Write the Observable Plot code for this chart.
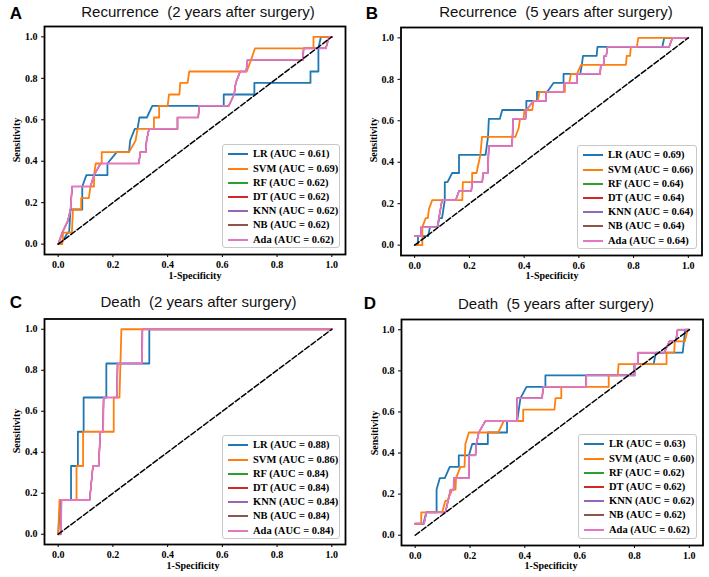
<!DOCTYPE html>
<html><head><meta charset="utf-8">
<script src="https://cdn.jsdelivr.net/npm/d3@7"></script>
<script src="https://cdn.jsdelivr.net/npm/@observablehq/plot@0.6"></script>
<style>
body{margin:0;background:#fff;}
#fig{position:relative;width:709px;height:577px;overflow:hidden;background:#fff;}
.abs{position:absolute;}
.panel svg{position:absolute;left:0;top:0;}
.title{font-family:"Liberation Sans",Arial,sans-serif;font-size:15px;white-space:pre;transform:translate(-50%,-50%);color:#111;line-height:1;}
.letter{font-family:"Liberation Sans",Arial,sans-serif;font-weight:bold;font-size:17px;transform:translate(-50%,-50%);color:#000;line-height:1;}
.axl{font-family:"Liberation Serif","Times New Roman",serif;font-weight:bold;font-size:10px;white-space:nowrap;color:#000;line-height:1;}
.legend{border:1px solid #c8c8c8;border-radius:3px;background:rgba(255,255,255,0.85);box-sizing:border-box;}
.lrow{position:absolute;left:0;height:14px;font-family:"Liberation Serif","Times New Roman",serif;font-weight:bold;font-size:10.5px;white-space:pre;color:#000;line-height:14px;}
.lline{position:absolute;height:2px;}
</style>
</head><body>
<div id="fig"></div>
<script>
// ---------- data ----------
const models = ["LR","SVM","RF","DT","KNN","NB","Ada"];
const colors = ["#1f77b4","#ff7f0e","#2ca02c","#d62728","#9467bd","#8c564b","#e377c2"];
const axisTicks = [0,0.2,0.4,0.6,0.8,1.0];
const letters = ["A","B","C","D"];
const titles = ["Recurrence  (2 years after surgery)","Recurrence  (5 years after surgery)","Death  (2 years after surgery)","Death  (5 years after surgery)"];
const xLabel = "1-Specificity";
const yLabel = "Sensitivity";
const chanceLine = [[0,0],[1,1]];

const aucA = [0.61,0.69,0.62,0.62,0.62,0.62,0.62];
const aucB = [0.69,0.66,0.64,0.64,0.64,0.64,0.64];
const aucC = [0.88,0.86,0.84,0.84,0.84,0.84,0.84];
const aucD = [0.63,0.60,0.62,0.62,0.62,0.62,0.62];

// Panel A: Recurrence 2 years  [fpr, tpr]
const A_LR = [[0,0],[0.01,0],[0.035,0.056],[0.04,0.056],[0.045,0.167],[0.088,0.167],[0.088,0.278],[0.103,0.333],[0.18,0.333],[0.18,0.389],[0.214,0.444],[0.259,0.444],[0.263,0.5],[0.28,0.556],[0.29,0.556],[0.297,0.611],[0.324,0.611],[0.344,0.667],[0.605,0.667],[0.605,0.722],[0.717,0.722],[0.717,0.778],[0.922,0.778],[0.922,0.833],[0.951,0.833],[0.951,0.944],[0.96,1],[1,1]];
const A_SVM = [[0,0],[0.015,0],[0.018,0.056],[0.05,0.056],[0.054,0.167],[0.084,0.167],[0.084,0.222],[0.112,0.222],[0.118,0.278],[0.131,0.278],[0.131,0.333],[0.137,0.389],[0.159,0.389],[0.159,0.444],[0.259,0.444],[0.283,0.5],[0.29,0.556],[0.35,0.556],[0.35,0.611],[0.369,0.611],[0.369,0.667],[0.4,0.667],[0.405,0.722],[0.443,0.722],[0.446,0.778],[0.473,0.778],[0.479,0.833],[0.689,0.833],[0.705,0.889],[0.719,0.944],[0.933,0.944],[0.933,1],[1,1]];
const A_Ada = [[0,0],[0.015,0.056],[0.035,0.111],[0.045,0.167],[0.051,0.278],[0.118,0.278],[0.131,0.333],[0.155,0.389],[0.295,0.389],[0.3,0.444],[0.32,0.444],[0.323,0.5],[0.332,0.556],[0.436,0.556],[0.436,0.611],[0.512,0.611],[0.515,0.667],[0.623,0.667],[0.643,0.722],[0.649,0.778],[0.665,0.833],[0.687,0.833],[0.692,0.889],[0.894,0.889],[0.897,0.944],[0.978,0.944],[0.99,1],[1,1]];
const A_RF = A_Ada, A_DT = A_Ada, A_KNN = A_Ada, A_NB = A_Ada;

// Panel B: Recurrence 5 years
const B_LR = [[0,0],[0.012,0],[0.012,0.043],[0.049,0.043],[0.056,0.087],[0.083,0.087],[0.09,0.13],[0.1,0.13],[0.11,0.217],[0.11,0.304],[0.12,0.304],[0.137,0.348],[0.162,0.348],[0.162,0.435],[0.259,0.435],[0.268,0.522],[0.271,0.609],[0.311,0.609],[0.32,0.652],[0.408,0.652],[0.408,0.696],[0.447,0.696],[0.447,0.739],[0.484,0.739],[0.508,0.783],[0.544,0.783],[0.544,0.826],[0.605,0.826],[0.611,0.87],[0.615,0.913],[0.665,0.913],[0.668,0.957],[0.905,0.957],[0.912,1],[1,1]];
const B_SVM = [[0,0],[0.028,0],[0.028,0.087],[0.04,0.13],[0.048,0.13],[0.052,0.174],[0.064,0.217],[0.174,0.217],[0.176,0.304],[0.21,0.304],[0.21,0.348],[0.226,0.348],[0.24,0.435],[0.246,0.522],[0.368,0.522],[0.38,0.565],[0.385,0.609],[0.398,0.609],[0.401,0.652],[0.43,0.652],[0.434,0.696],[0.45,0.696],[0.456,0.739],[0.549,0.739],[0.549,0.783],[0.565,0.783],[0.571,0.826],[0.593,0.826],[0.608,0.87],[0.772,0.87],[0.775,0.913],[0.787,0.913],[0.79,0.957],[0.812,0.957],[0.817,1],[1,1]];
const B_Ada = [[0,0.043],[0.024,0.043],[0.024,0.087],[0.083,0.087],[0.1,0.217],[0.15,0.217],[0.162,0.261],[0.207,0.261],[0.21,0.304],[0.247,0.304],[0.25,0.348],[0.267,0.348],[0.271,0.478],[0.356,0.478],[0.36,0.609],[0.405,0.609],[0.408,0.652],[0.435,0.696],[0.48,0.696],[0.48,0.739],[0.544,0.739],[0.548,0.783],[0.593,0.783],[0.593,0.826],[0.678,0.826],[0.68,0.87],[0.69,0.87],[0.693,0.913],[0.7,0.913],[0.705,0.957],[0.93,0.957],[0.942,1],[1,1]];
const B_RF = B_Ada, B_DT = B_Ada, B_KNN = B_Ada, B_NB = B_Ada;

// Panel C: Death 2 years
const C_LR = [[0,0],[0.008,0.167],[0.047,0.167],[0.047,0.333],[0.072,0.333],[0.072,0.5],[0.093,0.5],[0.093,0.667],[0.176,0.667],[0.176,0.833],[0.333,0.833],[0.333,1],[1,1]];
const C_SVM = [[0,0],[0.005,0.167],[0.067,0.167],[0.067,0.333],[0.091,0.333],[0.091,0.5],[0.203,0.5],[0.203,0.667],[0.224,0.667],[0.231,1],[1,1]];
const C_Ada = [[0,0],[0.01,0],[0.012,0.167],[0.115,0.167],[0.127,0.333],[0.148,0.333],[0.154,0.5],[0.164,0.5],[0.166,0.667],[0.215,0.667],[0.217,0.833],[0.306,0.833],[0.308,1],[1,1]];
const C_RF = C_Ada, C_DT = C_Ada, C_KNN = C_Ada, C_NB = C_Ada;

// Panel D: Death 5 years
const D_LR = [[0,0.056],[0.03,0.056],[0.04,0.111],[0.078,0.111],[0.078,0.222],[0.09,0.278],[0.108,0.278],[0.126,0.333],[0.159,0.333],[0.159,0.389],[0.196,0.389],[0.208,0.444],[0.265,0.444],[0.265,0.5],[0.335,0.5],[0.335,0.556],[0.372,0.556],[0.384,0.667],[0.406,0.722],[0.475,0.722],[0.475,0.778],[0.8,0.778],[0.8,0.833],[0.87,0.833],[0.878,0.889],[0.976,0.889],[0.985,1],[1,1]];
const D_SVM = [[0,0.056],[0.022,0.056],[0.022,0.111],[0.098,0.111],[0.11,0.167],[0.117,0.167],[0.135,0.222],[0.147,0.222],[0.149,0.278],[0.165,0.333],[0.18,0.333],[0.183,0.444],[0.196,0.5],[0.303,0.5],[0.323,0.556],[0.394,0.556],[0.394,0.611],[0.508,0.611],[0.512,0.667],[0.533,0.667],[0.533,0.722],[0.706,0.722],[0.706,0.778],[0.739,0.778],[0.742,0.833],[0.917,0.833],[0.917,0.889],[0.945,0.889],[0.947,0.944],[0.984,0.944],[0.994,1],[1,1]];
const D_Ada = [[0,0.056],[0.032,0.056],[0.041,0.111],[0.11,0.111],[0.12,0.167],[0.129,0.222],[0.14,0.222],[0.141,0.278],[0.196,0.278],[0.196,0.389],[0.22,0.389],[0.223,0.444],[0.232,0.5],[0.256,0.556],[0.372,0.556],[0.372,0.667],[0.463,0.667],[0.467,0.722],[0.624,0.722],[0.624,0.778],[0.8,0.778],[0.8,0.833],[0.812,0.833],[0.812,0.889],[0.909,0.889],[0.927,0.944],[0.951,0.944],[0.957,1],[1,1]];
const D_RF = D_Ada, D_DT = D_Ada, D_KNN = D_Ada, D_NB = D_Ada;

// ---------- layout ----------
const panels = [
  {curves:[A_LR,A_SVM,A_RF,A_DT,A_KNN,A_NB,A_Ada], auc:aucA, left:0, top:0, w:354, h:288, ml:44, mr:9, mt:26, mb:34,
   letter:[16,13], title:[198,11], xl:[195,276], yl:[17,140], leg:[222,144,118,104]},
  {curves:[B_LR,B_SVM,B_RF,B_DT,B_KNN,B_NB,B_Ada], auc:aucB, left:354, top:0, w:355, h:288, ml:46.5, mr:7.5, mt:27, mb:33,
   letter:[18,13], title:[202,11], xl:[198,276], yl:[20,140], leg:[223,145,120,104]},
  {curves:[C_LR,C_SVM,C_RF,C_DT,C_KNN,C_NB,C_Ada], auc:aucC, left:0, top:288, w:354, h:289, ml:44, mr:9, mt:30.5, mb:33,
   letter:[16,13.5], title:[198.5,13.3], xl:[193,278], yl:[17,143], leg:[222,147,118,104]},
  {curves:[D_LR,D_SVM,D_RF,D_DT,D_KNN,D_NB,D_Ada], auc:aucD, left:354, top:288, w:355, h:289, ml:47, mr:6.5, mt:31, mb:32,
   letter:[16,15], title:[202,15], xl:[197,278], yl:[20.5,145], leg:[224,146,119,105]}
];

const fig = document.getElementById("fig");
const fmt = d3.format(".1f");

panels.forEach((p, k) => {
  const div = document.createElement("div");
  div.className = "abs panel";
  div.style.cssText = `left:${p.left}px;top:${p.top}px;width:${p.w}px;height:${p.h}px;`;
  fig.appendChild(div);

  const rows = [];
  p.curves.forEach((pts, i) => pts.forEach(([x, y]) => rows.push({model: models[i], x, y})));
  const diag = chanceLine.map(([x, y]) => ({x, y}));
  // curves hidden beneath Ada in the reference are drawn slightly thinner to avoid colour fringes
  const visible = ["LR", "SVM", "Ada"];

  const svg = Plot.plot({
    width: p.w, height: p.h,
    marginLeft: p.ml, marginRight: p.mr, marginTop: p.mt, marginBottom: p.mb,
    x: {domain: [-0.05, 1.05], label: null},
    y: {domain: [-0.05, 1.05], label: null},
    color: {domain: models, range: colors},
    style: {fontFamily: "'Liberation Serif','Times New Roman',serif", fontSize: "10px", fontWeight: "bold", color: "#000", background: "transparent", overflow: "visible"},
    marks: [
      Plot.axisX({ticks: axisTicks, tickFormat: fmt, tickSize: 3, tickPadding: 3.5, label: null}),
      Plot.axisY({ticks: axisTicks, tickFormat: fmt, tickSize: 3, tickPadding: 4, label: null}),
      Plot.line(rows.filter(d => !visible.includes(d.model)), {x: "x", y: "y", z: "model", stroke: "model", strokeWidth: 1.2}),
      Plot.line(rows.filter(d => d.model === "LR" || d.model === "SVM"), {x: "x", y: "y", z: "model", stroke: "model", strokeWidth: 1.8}),
      Plot.line(rows.filter(d => d.model === "Ada"), {x: "x", y: "y", z: "model", stroke: "model", strokeWidth: 1.8}),
      Plot.line(diag, {x: "x", y: "y", stroke: "black", strokeWidth: 1.5, strokeDasharray: "5.5,2.4"}),
      Plot.frame({stroke: "black", strokeWidth: 1.8})
    ]
  });
  div.appendChild(svg);

  const mk = (cls, txt, x, y, extra = "") => {
    const e = document.createElement("div");
    e.className = "abs " + cls;
    e.textContent = txt;
    e.style.cssText = `left:${x}px;top:${y}px;` + extra;
    div.appendChild(e);
    return e;
  };
  mk("letter", letters[k], p.letter[0], p.letter[1]);
  mk("title", titles[k], p.title[0], p.title[1]);
  mk("axl", xLabel, p.xl[0], p.xl[1], "transform:translate(-50%,-50%);");
  mk("axl", yLabel, p.yl[0], p.yl[1], "transform:translate(-50%,-50%) rotate(-90deg);");

  const [lx, ly, lw, lh] = p.leg;
  const leg = document.createElement("div");
  leg.className = "abs legend";
  leg.style.cssText = `left:${lx}px;top:${ly}px;width:${lw}px;height:${lh}px;`;
  div.appendChild(leg);
  models.forEach((m, i) => {
    const cy = 9.3 + i * 14.2;
    const ln = document.createElement("div");
    ln.className = "lline";
    ln.style.cssText = `left:5px;top:${cy - 1}px;width:20px;background:${colors[i]};`;
    leg.appendChild(ln);
    const t = document.createElement("div");
    t.className = "lrow";
    t.style.cssText = `left:30px;top:${cy - 7}px;`;
    t.textContent = `${m} (AUC = ${p.auc[i].toFixed(2)})`;
    leg.appendChild(t);
  });
});
</script>
</body></html>
